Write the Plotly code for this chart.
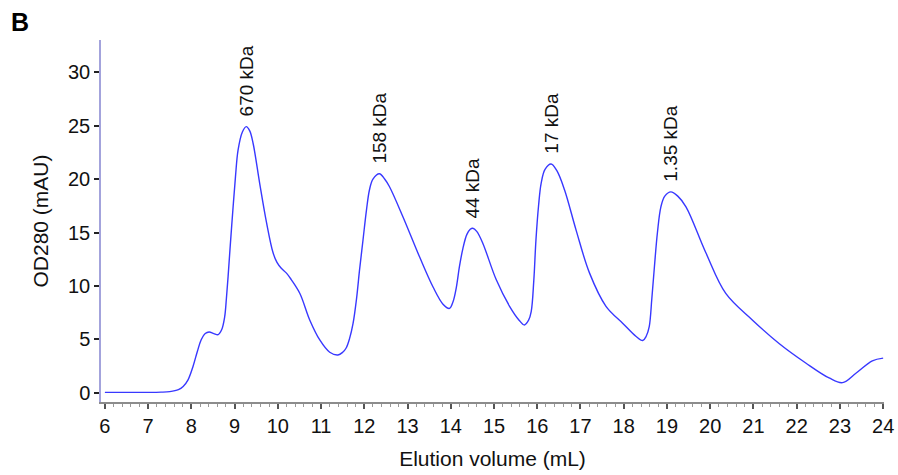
import plotly.graph_objects as go

# Elution volume (mL) and OD280 (mAU)
volume = [6.0, 6.5, 7.0, 7.3, 7.5, 7.7, 7.81, 7.92, 8.04, 8.14, 8.23, 8.32, 8.41, 8.52, 8.62, 8.7,
          8.77, 8.81, 8.85, 8.9, 8.96, 9.02, 9.08, 9.18, 9.27, 9.35, 9.43, 9.58, 9.74, 9.89, 9.98,
          10.08, 10.2, 10.31, 10.51, 10.74, 10.97, 11.2, 11.39, 11.5, 11.58, 11.66, 11.74, 11.82,
          11.89, 11.97, 12.05, 12.12, 12.2, 12.35, 12.47, 12.58, 12.89, 13.28, 13.59, 13.82,
          13.97, 14.05, 14.13, 14.2, 14.28, 14.37, 14.45, 14.51, 14.6, 14.74, 15.05, 15.36,
          15.58, 15.7, 15.8, 15.86, 15.92, 15.97, 16.03, 16.09, 16.18, 16.32, 16.45, 16.63,
          16.9, 17.21, 17.59, 17.98, 18.28, 18.44, 18.52, 18.59, 18.65, 18.71, 18.78, 18.86,
          18.95, 19.09, 19.25, 19.44, 19.9, 20.36, 20.98, 21.6, 22.21, 22.75, 23.06, 23.37,
          23.75, 24.0]
od280 = [0.05, 0.05, 0.05, 0.07, 0.12, 0.3, 0.6, 1.2, 2.5, 3.9, 5.0, 5.55, 5.7, 5.55, 5.45, 5.9,
         7.1, 8.8, 10.9, 13.8, 17.1, 20.2, 22.7, 24.4, 24.9, 24.5, 23.3, 19.6, 15.9, 13.1, 12.2,
         11.65, 11.2, 10.6, 9.3, 6.8, 4.95, 3.8, 3.55, 3.8, 4.2, 5.1, 6.5, 8.8,
         11.5, 14.3, 17.1, 19.0, 20.0, 20.5, 20.0, 19.3, 16.5, 12.7, 9.9, 8.3,
         7.9, 8.5, 9.9, 11.8, 13.5, 14.8, 15.3, 15.4, 15.1, 14.0, 10.6, 8.1,
         6.8, 6.35, 6.8, 7.6, 10.5, 14.3, 17.5, 19.6, 20.9, 21.4, 20.8, 19.0,
         15.2, 11.2, 8.1, 6.5, 5.3, 4.9, 5.3, 6.2, 8.8, 11.8, 15.0, 17.4,
         18.4, 18.8, 18.4, 17.4, 13.1, 9.3, 6.8, 4.6, 2.8, 1.4, 0.96, 1.84,
         3.0, 3.25]

# Marker labels and the peaks they sit above
marker_labels = ["670 kDa", "158 kDa", "44 kDa", "17 kDa", "1.35 kDa"]
marker_x = [9.27, 12.35, 14.51, 16.32, 19.09]
marker_y = [24.9, 20.5, 15.4, 21.4, 18.8]

x_ticks = list(range(6, 25))
y_ticks = [0, 5, 10, 15, 20, 25, 30]

font_family = "Liberation Sans, Arial, sans-serif"

fig = go.Figure()
fig.add_trace(go.Scatter(
    x=volume, y=od280, mode="lines",
    line=dict(color="#3838ff", width=1.4, shape="spline", smoothing=1.0),
    hoverinfo="x+y", showlegend=False,
))

for lab, px, py in zip(marker_labels, marker_x, marker_y):
    fig.add_annotation(
        x=px, y=py, text=lab, showarrow=False, textangle=-90,
        xanchor="center", yanchor="bottom", yshift=8,
        font=dict(family=font_family, size=19, color="#111111"),
    )

fig.add_annotation(
    xref="paper", yref="paper", x=-0.1034, y=1.0497, text="<b>B</b>", showarrow=False,
    xanchor="center", yanchor="middle",
    font=dict(family=font_family, size=25, color="#000000"),
)

fig.update_layout(
    width=898, height=475,
    margin=dict(l=101, r=14, t=40, b=73),
    paper_bgcolor="white", plot_bgcolor="white",
    font=dict(family=font_family, size=20, color="#111111"),
    xaxis=dict(
        range=[5.91, 24.02], tickmode="array", tickvals=x_ticks,
        ticktext=[str(t) for t in x_ticks], automargin=False, ticklabeloverflow="allow",
        showgrid=False, zeroline=False, showline=True, linecolor="#8c8c8c", linewidth=1.5,
        ticks="outside", ticklen=5, tickwidth=1.5, tickcolor="#555555",
        minor=dict(dtick=0.2, ticks="outside", ticklen=3, tickcolor="#999999", tickwidth=1),
        title=dict(text="Elution volume (mL)", font=dict(size=21), standoff=16),
        tickfont=dict(size=20),
    ),
    yaxis=dict(
        range=[-0.85, 33.0], tickmode="array", tickvals=y_ticks,
        ticktext=[str(t) for t in y_ticks], automargin=False,
        showgrid=False, zeroline=False, showline=True, linecolor="#a3a3dc", linewidth=1.5,
        ticks="outside", ticklen=5, tickwidth=2, tickcolor="#222222",
        title=dict(text="OD280 (mAU)", font=dict(size=21), standoff=14),
        tickfont=dict(size=20),
    ),
)

fig.write_html(
    "out.html",
    config={"displayModeBar": False},
    post_script="document.body.style.margin='0px';document.body.style.overflow='hidden';",
)
